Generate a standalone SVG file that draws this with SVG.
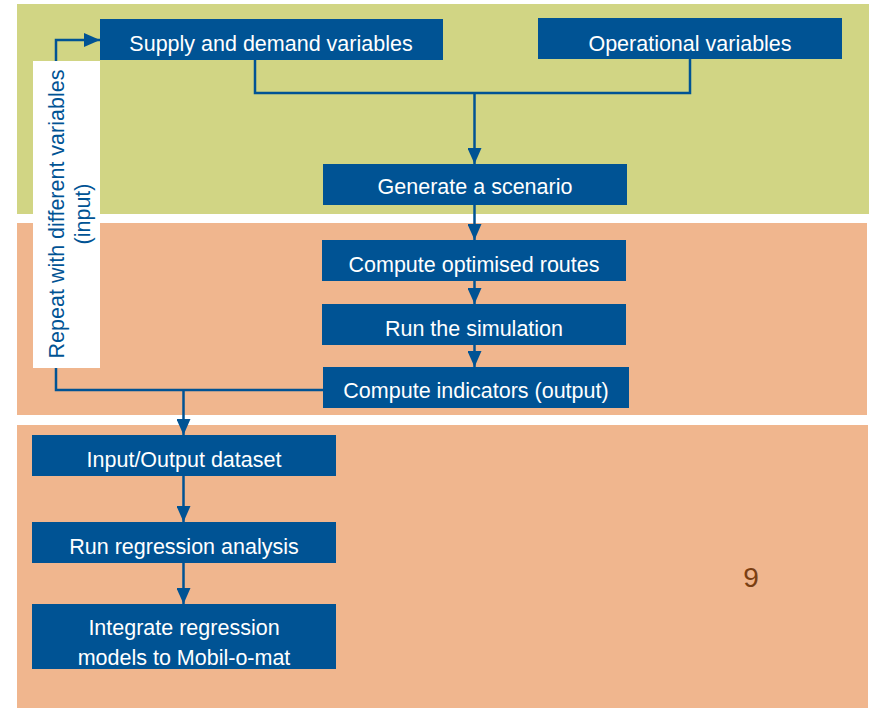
<svg xmlns="http://www.w3.org/2000/svg" width="871" height="709" viewBox="0 0 871 709">
<defs>
<style>
.band-g{fill:#d1d584}
.band-o{fill:#f0b68e}
.box{fill:#005394}
.lbl{font-family:"Liberation Sans",Arial,sans-serif;font-size:21.5px;fill:#ffffff;text-anchor:middle}
.vlbl{font-family:"Liberation Sans",Arial,sans-serif;font-size:21.5px;fill:#005394;text-anchor:middle}
.con{fill:none;stroke:#005394;stroke-width:2.5}
</style>
<marker id="ah" viewBox="0 0 16 14" refX="16" refY="7" markerWidth="16" markerHeight="14" markerUnits="userSpaceOnUse" orient="auto">
<path d="M0,0 L16,7 L0,14 Z" fill="#005394"/>
</marker>
</defs>
<rect width="871" height="709" fill="#ffffff"/>
<g id="bands">
<rect class="band-g" x="17" y="4" width="852" height="210"/>
<rect class="band-o" x="17" y="223" width="850" height="192"/>
<rect class="band-o" x="17" y="425" width="851" height="283"/>
</g>
<g id="connectors">
<path class="con" d="M255,60 V93 H690 V59"/>
<path class="con" d="M474.5,93 V164" marker-end="url(#ah)"/>
<path class="con" d="M474.5,205 V240" marker-end="url(#ah)"/>
<path class="con" d="M474.5,281 V304" marker-end="url(#ah)"/>
<path class="con" d="M474.5,345 V367" marker-end="url(#ah)"/>
<path class="con" d="M323,390 H56 V40 H100" marker-end="url(#ah)"/>
<path class="con" d="M183.5,390 V435" marker-end="url(#ah)"/>
<path class="con" d="M183.5,476 V522" marker-end="url(#ah)"/>
<path class="con" d="M183.5,563 V604" marker-end="url(#ah)"/>
</g>
<g id="repeat-label">
<rect x="33" y="61" width="67" height="307" fill="#ffffff"/>
<text class="vlbl" transform="translate(64,214) rotate(-90)"><tspan x="0" y="0">Repeat with different variables</tspan><tspan x="0" y="26">(input)</tspan></text>
</g>
<g id="supply">
<rect class="box" x="100" y="19" width="343" height="41"/>
<text class="lbl" x="271" y="51">Supply and demand variables</text>
</g>
<g id="operational">
<rect class="box" x="538" y="18" width="304" height="41"/>
<text class="lbl" x="690" y="50.5">Operational variables</text>
</g>
<g id="generate">
<rect class="box" x="323" y="164" width="304" height="41"/>
<text class="lbl" x="475" y="194">Generate a scenario</text>
</g>
<g id="routes">
<rect class="box" x="322" y="240" width="304" height="41"/>
<text class="lbl" x="474" y="272">Compute optimised routes</text>
</g>
<g id="simulation">
<rect class="box" x="322" y="304" width="304" height="41"/>
<text class="lbl" x="474" y="336">Run the simulation</text>
</g>
<g id="indicators">
<rect class="box" x="323" y="367" width="306" height="41"/>
<text class="lbl" x="476" y="398">Compute indicators (output)</text>
</g>
<g id="dataset">
<rect class="box" x="32" y="435" width="304" height="41"/>
<text class="lbl" x="184" y="467">Input/Output dataset</text>
</g>
<g id="regression">
<rect class="box" x="32" y="522" width="304" height="41"/>
<text class="lbl" x="184" y="554">Run regression analysis</text>
</g>
<g id="integrate">
<rect class="box" x="32" y="604" width="304" height="65"/>
<text class="lbl" x="184" y="635">Integrate regression</text>
<text class="lbl" x="184" y="665">models to Mobil-o-mat</text>
</g>
<text x="751" y="587" font-family="'Liberation Sans',Arial,sans-serif" font-size="28" fill="#7b3f12" text-anchor="middle">9</text>
</svg>
